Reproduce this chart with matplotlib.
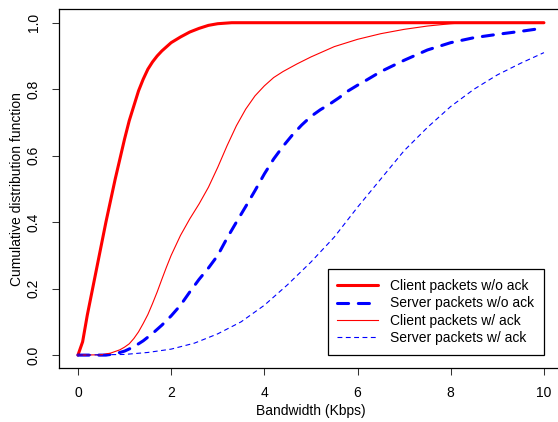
import matplotlib
matplotlib.use("Agg")
import matplotlib.pyplot as plt

# values
client_noack_x = [0, 0.1, 0.2, 0.3, 0.4, 0.5, 0.6, 0.7, 0.8, 0.9, 1.0, 1.1, 1.2, 1.3, 1.4, 1.5, 1.6, 1.7, 1.8,
                  2.0, 2.2, 2.4, 2.6, 2.8, 3.0, 3.3, 10]
client_noack_y = [0, 0.04, 0.12, 0.19, 0.26, 0.33, 0.40, 0.465, 0.53, 0.59, 0.65, 0.705, 0.75, 0.795, 0.83, 0.86,
                  0.882, 0.90, 0.915, 0.94, 0.957, 0.972, 0.983, 0.992, 0.997, 1.0, 1.0]

server_noack_x = [0, 0.6, 0.8, 1.0, 1.2, 1.4, 1.6, 1.8, 2.0, 2.2, 2.4, 2.6, 2.8, 3.0, 3.2, 3.4, 3.6, 3.8, 4.0,
                  4.2, 4.4, 4.6, 4.8, 5.0, 5.2, 5.4, 5.6, 5.8, 6.0, 6.2, 6.5, 7.0, 7.5, 8.0, 8.5, 9.0, 9.5, 10]
server_noack_y = [0, 0.0, 0.004, 0.012, 0.025, 0.043, 0.065, 0.09, 0.118, 0.15, 0.19, 0.228, 0.262, 0.30, 0.352,
                  0.40, 0.447, 0.495, 0.545, 0.59, 0.628, 0.662, 0.692, 0.718, 0.738, 0.755, 0.774, 0.795, 0.812,
                  0.828, 0.853, 0.887, 0.918, 0.94, 0.955, 0.965, 0.974, 0.984]

client_ack_x = [0, 0.5, 0.7, 0.9, 1.0, 1.1, 1.2, 1.3, 1.4, 1.5, 1.6, 1.7, 1.8, 1.9, 2.0, 2.2, 2.4, 2.6, 2.8, 3.0,
                3.2, 3.4, 3.6, 3.8, 4.0, 4.2, 4.4, 4.7, 5.0, 5.5, 6.0, 6.5, 7.0, 7.5, 8.0, 8.3, 10]
client_ack_y = [0, 0.001, 0.006, 0.016, 0.024, 0.034, 0.05, 0.07, 0.095, 0.122, 0.155, 0.19, 0.228, 0.265, 0.30,
                0.36, 0.41, 0.455, 0.505, 0.565, 0.63, 0.69, 0.74, 0.78, 0.81, 0.835, 0.853, 0.876, 0.897, 0.928,
                0.95, 0.967, 0.98, 0.99, 0.997, 1.0, 1.0]

server_ack_x = [0, 1.0, 1.5, 2.0, 2.5, 3.0, 3.5, 4.0, 4.5, 5.0, 5.5, 6.0, 6.5, 7.0, 7.5, 8.0, 8.5, 9.0, 9.5, 10]
server_ack_y = [0, 0.002, 0.008, 0.018, 0.036, 0.064, 0.10, 0.15, 0.212, 0.28, 0.355, 0.445, 0.53, 0.615, 0.685,
                0.748, 0.80, 0.843, 0.878, 0.91]

labels = ["Client packets w/o ack", "Server packets w/o ack", "Client packets w/ ack", "Server packets w/ ack"]
x_ticks = [0, 2, 4, 6, 8, 10]
y_ticks = [0.0, 0.2, 0.4, 0.6, 0.8, 1.0]

plt.rcParams['font.family'] = ['Liberation Sans', 'DejaVu Sans']
plt.rcParams['font.size'] = 10
plt.rcParams['lines.scale_dashes'] = False

fig = plt.figure(figsize=(5.58, 4.22), dpi=100)
# right edge of the box falls just outside the picture, like the reference
ax = fig.add_axes([0.1063, 0.127, 0.9019, 0.8507])

ax.plot(client_noack_x, client_noack_y, color='#FF0000', lw=2.2, solid_capstyle='round',
        solid_joinstyle='round', label=labels[0])
ax.plot(server_noack_x, server_noack_y, color='#0000FF', lw=2.2, dashes=(8, 7), dash_capstyle='round',
        label=labels[1])
ax.plot(client_ack_x, client_ack_y, color='#FF0000', lw=0.8, label=labels[2])
ax.plot(server_ack_x, server_ack_y, color='#0000FF', lw=0.8, dashes=(3.5, 2.5), label=labels[3])

ax.set_xlim(-0.4, 10.4)
ax.set_ylim(-0.04, 1.04)
ax.set_xticks(x_ticks)
ax.set_xticklabels([str(v) for v in x_ticks])
ax.set_yticks(y_ticks)
ax.set_yticklabels(["%.1f" % v for v in y_ticks], rotation=90, va='center')
ax.tick_params(direction='out', length=5, width=0.75, color='#333333')
ax.tick_params(axis='x', pad=8)
ax.tick_params(axis='y', pad=8.5)
for s in ax.spines.values():
    s.set_linewidth(0.9)
    s.set_color('black')

ax.set_xlabel('Bandwidth (Kbps)', va='center')
ax.xaxis.set_label_coords(0.5, -0.1187)
ax.set_ylabel('Cumulative distribution function', va='center')
ax.yaxis.set_label_coords(-0.085, 0.5)

leg = ax.legend(loc='lower right', bbox_to_anchor=(544 / 558, 67 / 422), bbox_transform=fig.transFigure,
                borderaxespad=0, fancybox=False, framealpha=1, edgecolor='black', handlelength=2.9,
                handletextpad=0.9, labelspacing=0.245, borderpad=0.7, fontsize=10)
leg.get_frame().set_linewidth(0.9)

fig.savefig('out.png', dpi=100)
